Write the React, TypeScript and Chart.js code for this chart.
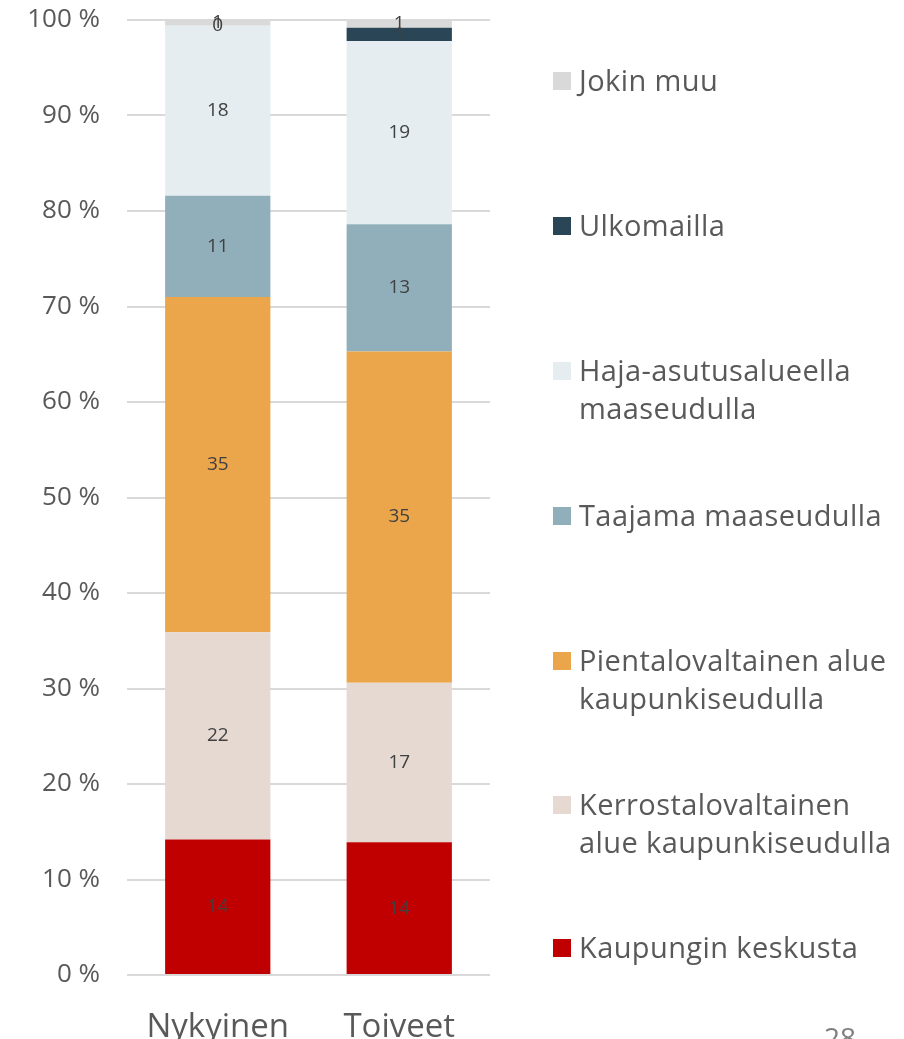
import React, { useEffect, useRef } from "react";
import { Chart, registerables } from "chart.js";

Chart.register(...registerables);

const categories = ["Nykyinen", "Toiveet"];
const seriesNames = [
  "Kaupungin keskusta",
  "Kerrostalovaltainen alue kaupunkiseudulla",
  "Pientalovaltainen alue kaupunkiseudulla",
  "Taajama maaseudulla",
  "Haja-asutusalueella maaseudulla",
  "Ulkomailla",
  "Jokin muu",
];
const legendLines = [
  ["Kaupungin keskusta"],
  ["Kerrostalovaltainen", "alue kaupunkiseudulla"],
  ["Pientalovaltainen alue", "kaupunkiseudulla"],
  ["Taajama maaseudulla"],
  ["Haja-asutusalueella", "maaseudulla"],
  ["Ulkomailla"],
  ["Jokin muu"],
];
const kaupunginKeskusta = [14.2, 13.9];
const kerrostalo = [21.7, 16.7];
const pientalo = [35.1, 34.7];
const taajama = [10.6, 13.3];
const haja = [17.8, 19.2];
const ulkomailla = [0, 1.4];
const jokinMuu = [0.6, 0.8];
const seriesValues = [kaupunginKeskusta, kerrostalo, pientalo, taajama, haja, ulkomailla, jokinMuu];
const colors = ["#C00000", "#E6D9D2", "#EBA54A", "#91AFBA", "#E5EDF1", "#294556", "#D9D9D9"];
const yTicks = [0, 10, 20, 30, 40, 50, 60, 70, 80, 90, 100];

const FONT = "'Open Sans', sans-serif";

const labelPlugin = {
  id: "segLabels",
  afterDatasetsDraw(chart: any) {
    const ctx = chart.ctx;
    ctx.save();
    ctx.font = `19px ${FONT}`;
    ctx.fillStyle = "#404040";
    ctx.textAlign = "center";
    ctx.textBaseline = "middle";
    chart.data.datasets.forEach((ds: any, di: number) => {
      const meta = chart.getDatasetMeta(di);
      meta.data.forEach((el: any, i: number) => {
        const v = ds.data[i];
        const y = (el.y + el.base) / 2;
        ctx.fillText(String(Math.round(v)), el.x, y);
      });
    });
    ctx.restore();
  },
};

export default function App() {
  const ref = useRef<HTMLCanvasElement>(null);
  useEffect(() => {
    if (!ref.current) return;
    const chart = new Chart(ref.current, {
      type: "bar",
      data: {
        labels: categories,
        datasets: seriesNames.map((name, i) => ({
          label: name,
          data: seriesValues[i],
          backgroundColor: colors[i],
          borderWidth: 0,
          barPercentage: 0.58,
          categoryPercentage: 1,
        })),
      },
      options: {
        animation: false,
        responsive: false,
        maintainAspectRatio: false,
        layout: { padding: { top: 20, right: 414, left: 0, bottom: 0 } },
        plugins: { legend: { display: false }, tooltip: { enabled: false } },
        scales: {
          x: {
            stacked: true,
            grid: { display: false, drawTicks: false },
            border: { display: false },
            ticks: { color: "#595959", font: { family: FONT, size: 33 }, padding: 33 },
            afterFit: (s: any) => {
              s.height = 64;
              s.paddingLeft = 0;
              s.paddingRight = 0;
            },
          },
          y: {
            stacked: true,
            min: 0,
            max: 100,
            afterBuildTicks: (s: any) => {
              s.ticks = yTicks.map((v) => ({ value: v }));
            },
            grid: { color: "#D9D9D9", lineWidth: 2, drawTicks: false },
            border: { display: false },
            ticks: {
              color: "#595959",
              font: { family: FONT, size: 26 },
              padding: 27,
              callback: (v: any) => `${v} %`,
            },
            afterFit: (s: any) => {
              s.width = 127;
              s.paddingTop = 0;
              s.paddingBottom = 0;
            },
          },
        },
      },
      plugins: [labelPlugin],
    });
    return () => chart.destroy();
  }, []);

  const legendTops = [948, 805, 661, 516, 371, 226, 81];

  return (
    <div style={{ position: "absolute", left: 0, top: 0, width: 904, height: 1039, overflow: "hidden", background: "#fff" }}>
      <canvas ref={ref} width={904} height={1039} style={{ position: "absolute", left: 0, top: 0 }} />
      {legendLines.map((lines, i) => (
        <div key={i} style={{ position: "absolute", left: 553, top: legendTops[i] - 20, display: "flex", alignItems: "flex-start" }}>
          <div style={{ width: 18, height: 18, background: colors[i], marginTop: 11, marginRight: 8 }} />
          <div style={{ fontFamily: FONT, fontSize: 29, lineHeight: "38px", color: "#595959", whiteSpace: "nowrap", letterSpacing: 0.4 }}>
            {lines.map((l, j) => (
              <div key={j}>{l}</div>
            ))}
          </div>
        </div>
      ))}
      <div style={{ position: "absolute", left: 824, top: 1018, fontFamily: FONT, fontSize: 28, color: "#7F7F7F" }}>28</div>
    </div>
  );
}
